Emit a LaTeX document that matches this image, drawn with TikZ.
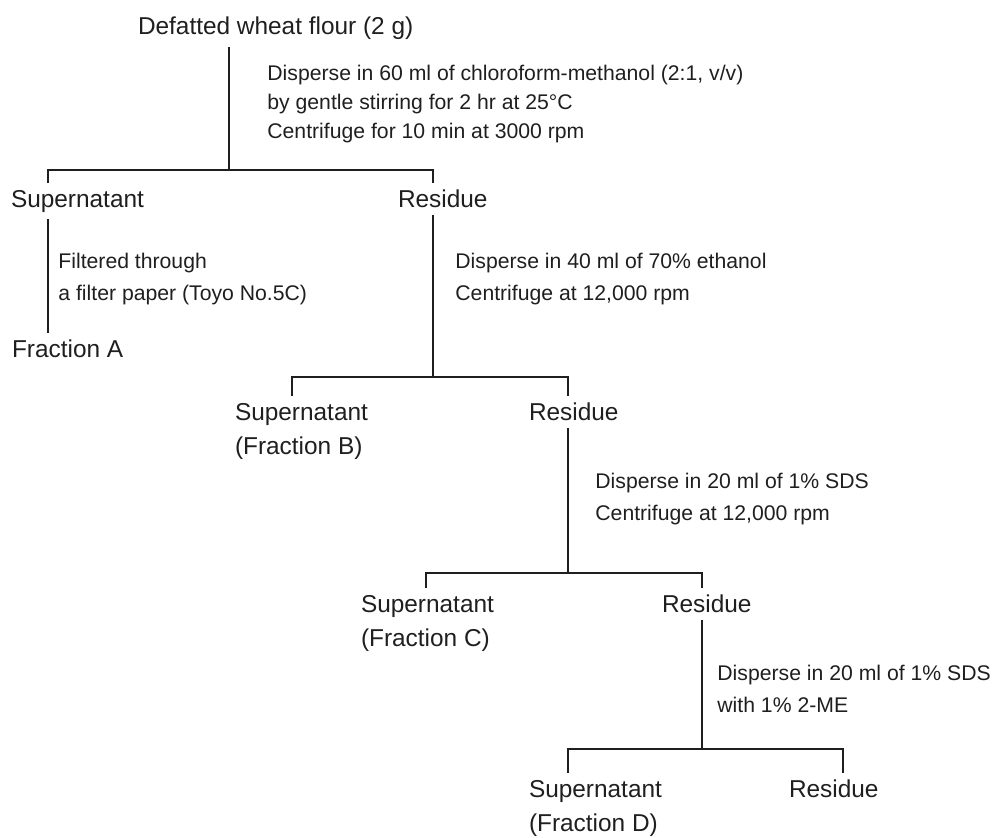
\documentclass[tikz,border=0pt]{standalone}
\usepackage{fontspec}
\setmainfont{Liberation Sans}
\colorlet{Ink}{black!88}

\begin{document}
\begin{tikzpicture}[
      x=0.5pt,y=-0.5pt,
      stage/.style={anchor=north west,inner sep=0pt,outer xsep=0pt,outer ysep=3.5pt,align=left,text=Ink,font=\fontsize{12.2}{17}\selectfont},
      howto/.style={anchor=north west,inner sep=0pt,align=left,text=Ink,font=\fontsize{10.6}{16}\selectfont},
      link/.style={draw=Ink,line width=0.6pt}
    ]
    \useasboundingbox (0,0) rectangle (994,837);
    % fractions and residues
    \node[stage] (flour) at (138,10) {Defatted wheat flour (2 g)};
    \node[stage] (supA) at (11,183) {Supernatant};
    \node[stage] (res1) at (398,183) {Residue};
    \node[stage] (fracA) at (12,333) {Fraction A};
    \node[stage] (supB) at (235,396) {Supernatant\\(Fraction B)};
    \node[stage] (res2) at (529,396) {Residue};
    \node[stage] (supC) at (361,588) {Supernatant\\(Fraction C)};
    \node[stage] (res3) at (662,588) {Residue};
    \node[stage] (supD) at (529,773) {Supernatant\\(Fraction D)};
    \node[stage] (res4) at (789,773) {Residue};
    % treatments
    \node[howto,font=\fontsize{10.6}{14.5}\selectfont] (chloro) at (267,65)
      {Disperse in 60 ml of chloroform-methanol (2:1, v/v)\\by gentle stirring for 2 hr at 25°C\\Centrifuge for 10 min at 3000 rpm};
    \node[howto] (filter) at (58,253) {Filtered through\\a filter paper (Toyo No.5C)};
    \node[howto] (ethanol) at (455,253) {Disperse in 40 ml of 70\% ethanol\\Centrifuge at 12,000 rpm};
    \node[howto] (sds) at (595,473) {Disperse in 20 ml of 1\% SDS\\Centrifuge at 12,000 rpm};
    \node[howto] (sdsme) at (717,665) {Disperse in 20 ml of 1\% SDS\\with 1\% 2-ME};
    % forks
    \coordinate (fork1) at (229,170);
    \coordinate (fork1l) at (48,170);
    \coordinate (fork1r) at (433,170);
    \coordinate (fork2) at (433,377);
    \coordinate (fork2l) at (292,377);
    \coordinate (fork2r) at (568,377);
    \coordinate (fork3) at (568,573);
    \coordinate (fork3l) at (426,573);
    \coordinate (fork3r) at (702,573);
    \coordinate (fork4) at (702,749);
    \coordinate (fork4l) at (568,749);
    \coordinate (fork4r) at (843,749);
    \draw[link] (flour.south -| fork1) -- (fork1);
    \draw[link] (supA.north -| fork1l) -- (fork1l) -- (fork1r) -- (res1.north -| fork1r);
    \draw[link] (supA.south -| fork1l) -- (fracA.north -| fork1l);
    \draw[link] (res1.south -| fork2) -- (fork2);
    \draw[link] (supB.north -| fork2l) -- (fork2l) -- (fork2r) -- (res2.north -| fork2r);
    \draw[link] (res2.south -| fork3) -- (fork3);
    \draw[link] (supC.north -| fork3l) -- (fork3l) -- (fork3r) -- (res3.north -| fork3r);
    \draw[link] (res3.south -| fork4) -- (fork4);
    \draw[link] (supD.north -| fork4l) -- (fork4l) -- (fork4r) -- (res4.north -| fork4r);
  \end{tikzpicture}
\end{document}
